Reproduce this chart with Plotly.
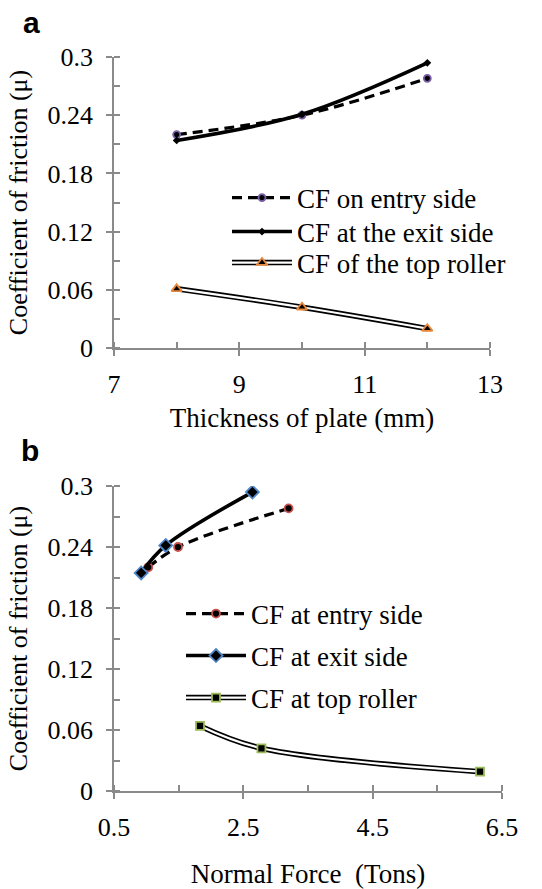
import plotly.graph_objects as go

W, H = 542, 889

# ---- Panel a data ----
thickness = [8, 10, 12]
cf_entry_a = [0.220, 0.240, 0.278]
cf_exit_a = [0.214, 0.241, 0.294]
cf_top_a = [0.061, 0.042, 0.020]

# ---- Panel b data ----
force_entry_b = [1.03, 1.49, 3.20]
cf_entry_b = [0.220, 0.240, 0.278]
force_exit_b = [0.92, 1.30, 2.64]
cf_exit_b = [0.2145, 0.2415, 0.294]
force_top_b = [1.83, 2.78, 6.16]
cf_top_b = [0.064, 0.042, 0.019]

names_a = ["CF on entry side", "CF at the exit side", "CF of the top roller"]
names_b = ["CF at entry side", "CF at exit side", "CF at top roller"]

SERIF = "Liberation Serif"
GREY = "#8a8a8a"

fig = go.Figure()


def series(x, y, name, xa, ya, leg, dash=None, width=3.4, color="black",
           sym=None, msize=8, mcol="black", mode="lines+markers"):
    line = dict(color=color, width=width, shape="spline", smoothing=1)
    if dash:
        line["dash"] = dash
    kw = dict(x=x, y=y, name=name, mode=mode, xaxis=xa, yaxis=ya, line=line, legend=leg)
    if sym:
        kw["marker"] = dict(symbol=sym, size=msize, color="black", line=dict(color=mcol, width=1.8))
    fig.add_trace(go.Scatter(**kw))


# Panel a
series(thickness, cf_entry_a, names_a[0], "x", "y", "legend", dash="10px,6px", width=3.2,
       sym="circle", msize=7, mcol="#7a5ea8")
series(thickness, cf_exit_a, names_a[1], "x", "y", "legend2", width=3.6,
       sym="diamond", msize=4, mcol="black")
series(thickness, cf_top_a, names_a[2], "x", "y", "legend3", width=5.5, mode="lines")
series(thickness, cf_top_a, "", "x", "y", "legend4", width=2.2, color="white",
       sym="triangle-up", msize=9, mcol="#e8873a")

# Panel b
series(force_entry_b, cf_entry_b, names_b[0], "x2", "y2", "legend5", dash="10px,6px", width=3.2,
       sym="circle", msize=8, mcol="#c9504d")
series(force_exit_b, cf_exit_b, names_b[1], "x2", "y2", "legend6", width=3.6,
       sym="diamond", msize=10, mcol="#4f87c9")
series(force_top_b, cf_top_b, names_b[2], "x2", "y2", "legend7", width=5.5, mode="lines")
series(force_top_b, cf_top_b, "", "x2", "y2", "legend8", width=2.2, color="white",
       sym="square", msize=8, mcol="#9bbb59")


def px_x(p):
    return p / W


def px_y(p):
    return 1 - p / H


tickfont = dict(family=SERIF, size=26, color="black")
titlefont = dict(family=SERIF, size=27, color="black")
ytitlefont = dict(family=SERIF, size=26, color="black")

dom_ax = [px_x(114), px_x(490)]
dom_ay = [px_y(348), px_y(57)]
dom_bx = [px_x(114), px_x(502)]
dom_by = [px_y(791), px_y(486)]

common = dict(showline=True, linecolor=GREY, linewidth=1.5, ticks="outside", ticklen=6,
              tickcolor=GREY, tickwidth=1.5, showgrid=False, zeroline=False, tickfont=tickfont,
              ticklabelstandoff=8, automargin=False)
common_x = dict(common, ticklabelstandoff=6)
common_y = dict(common, range=[0, 0.3], dtick=0.06, tick0=0,
                minor=dict(ticks="inside", ticklen=6, tickcolor=GREY, tickwidth=1.5, dtick=0.03, tick0=0,
                           showgrid=False))
over = dict(showline=False, ticks="inside", ticklen=6, tickcolor=GREY, tickwidth=1.5,
            showgrid=False, zeroline=False, showticklabels=False, automargin=False)

legfont = dict(family=SERIF, size=27, color="black")


def leg(xp, yp):
    return dict(x=px_x(xp), y=px_y(yp), xanchor="left", yanchor="middle", font=legfont,
                bgcolor="rgba(0,0,0,0)", borderwidth=0, itemwidth=60, tracegroupgap=0)


fig.update_layout(
    width=W, height=H, margin=dict(l=0, r=0, t=0, b=0, autoexpand=False),
    paper_bgcolor="white", plot_bgcolor="white",
    xaxis=dict(common_x, domain=dom_ax, anchor="y", range=[7, 13], dtick=2, tick0=7,
               minor=dict(ticks="inside", ticklen=6, tickcolor=GREY, tickwidth=1.5, dtick=1, tick0=7,
                          showgrid=False),
               title=dict(text="Thickness of plate (mm)", font=titlefont, standoff=10)),
    yaxis=dict(common_y, domain=dom_ay, anchor="x",
               title=dict(text="Coefficient of friction (μ)", font=ytitlefont, standoff=12)),
    xaxis2=dict(common_x, domain=dom_bx, anchor="y2", range=[0.5, 6.5], dtick=2, tick0=0.5,
                minor=dict(ticks="inside", ticklen=6, tickcolor=GREY, tickwidth=1.5, dtick=1, tick0=0.5,
                           showgrid=False),
                title=dict(text="Normal Force\u00a0 (Tons)", font=titlefont, standoff=36)),
    yaxis2=dict(common_y, domain=dom_by, anchor="x2",
                title=dict(text="Coefficient of friction (μ)", font=ytitlefont, standoff=12)),
    xaxis3=dict(over, overlaying="x", anchor="y", range=[7, 13], dtick=2, tick0=7),
    yaxis3=dict(over, overlaying="y", anchor="x", range=[0, 0.3], dtick=0.06, tick0=0),
    xaxis4=dict(over, overlaying="x2", anchor="y2", range=[0.5, 6.5], dtick=2, tick0=0.5),
    yaxis4=dict(over, overlaying="y2", anchor="x2", range=[0, 0.3], dtick=0.06, tick0=0),
    legend=leg(227, 198), legend2=leg(227, 232), legend3=leg(227, 263), legend4=leg(227, 263),
    legend5=leg(181, 614), legend6=leg(181, 656), legend7=leg(181, 698), legend8=leg(181, 698),
    showlegend=True,
    annotations=[
        dict(text="<b>a</b>", x=px_x(31), y=px_y(22), xref="paper", yref="paper",
             xanchor="center", yanchor="middle", showarrow=False,
             font=dict(family="Liberation Sans", size=30, color="black")),
        dict(text="<b>b</b>", x=px_x(30), y=px_y(450), xref="paper", yref="paper",
             xanchor="center", yanchor="middle", showarrow=False,
             font=dict(family="Liberation Sans", size=30, color="black")),
    ],
)

fig.write_html("out.html")
